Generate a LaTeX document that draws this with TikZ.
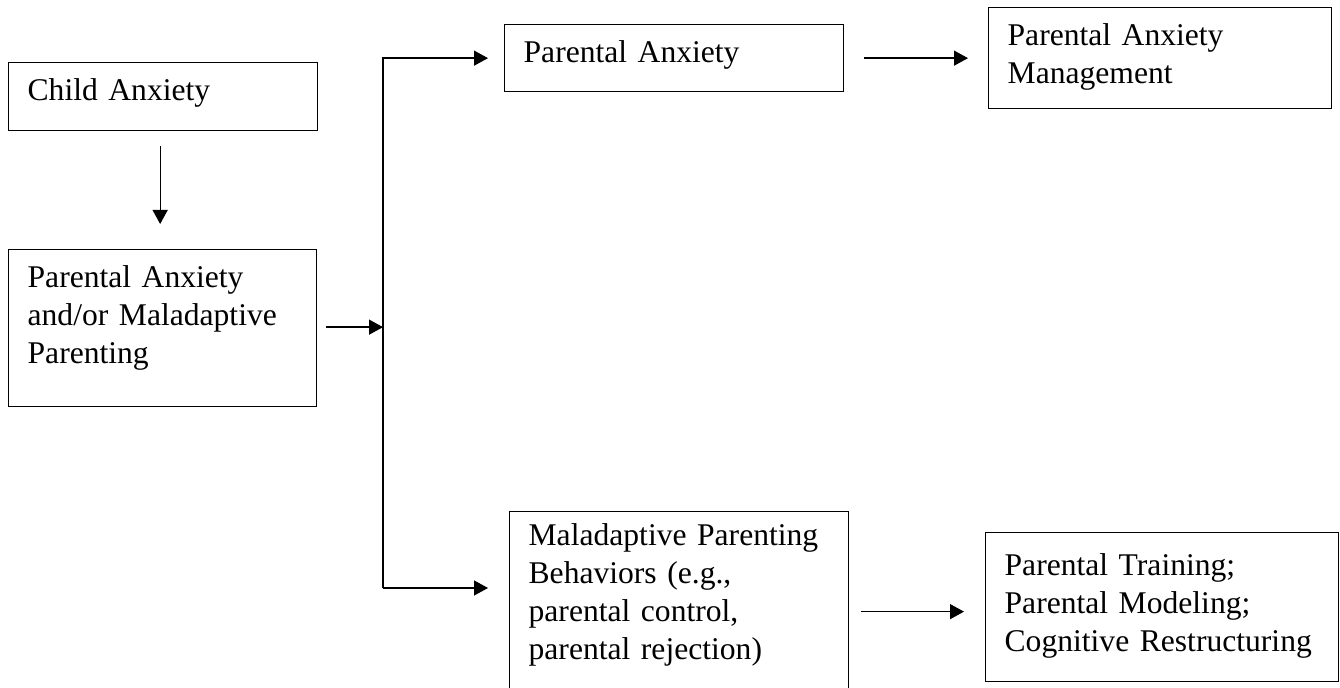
\documentclass[tikz,border=0pt]{standalone}
\usepackage{fontspec}
\setmainfont{Liberation Serif}
\usetikzlibrary{arrows.meta}
\hyphenpenalty=10000
\begin{document}
\begin{tikzpicture}[x=0.5pt,y=-0.5pt]
	\tikzstyle{fleche}=[line width=0.65pt,-{Triangle[length=7pt,width=7.5pt]}]
	\tikzstyle{boite}=[draw,line width=0.65pt,anchor=north west,align=left,inner xsep=9.5pt,inner ysep=0pt,text height=19pt,font=\fontsize{15.8}{19}\selectfont]
	\def\Jonction{383}\def\HautBranche{58}\def\BasBranche{588}
	\useasboundingbox (0,0) rectangle (1340,688);
	\node[boite,text width=135.5pt,text depth=15pt] (CA) at (8,62) {Child Anxiety};
	\node[boite,text width=135pt,text depth=59.5pt] (PAM) at (8,249) {Parental Anxiety\\and/or Maladaptive\\Parenting};
	\node[boite,text width=150.5pt,text depth=14.5pt] (PA) at (504,24) {Parental Anxiety};
	\node[boite,text width=152.5pt,text depth=31.5pt] (PAG) at (988,7) {Parental Anxiety\\Management};
	\node[boite,text width=150.5pt,text height=17pt,text depth=76pt] (MPB) at (509,511) {Maladaptive Parenting\\Behaviors (e.g.,\\parental control,\\parental rejection)};
	\node[boite,text width=157.5pt,text height=21.5pt,text depth=53pt] (PT) at (985,532) {Parental Training;\\Parental Modeling;\\Cognitive Restructuring};
	\coordinate (JH) at (\Jonction,\HautBranche) ; \coordinate (JB) at (\Jonction,\BasBranche) ;
	\draw[fleche,shorten <=7.5pt,shorten >=12.5pt] ([xshift=-1.5pt]CA.south) -- ([xshift=-1.5pt]CA.south |- PAM.north) ;
	\draw[fleche,shorten <=4.5pt] ([yshift=0.5pt]PAM.east) -- ([yshift=0.5pt]PAM.east -| JH) ;
	\draw[fleche,shorten >=8pt] (JB) |- (PA.west) ;
	\draw[fleche,shorten >=10.5pt] (JB) -- (JB -| MPB.west) ;
	\draw[fleche,shorten <=10pt,shorten >=10pt] (PA.east) -- (PAG.west) ;
	\draw[fleche,shorten <=6pt,shorten >=10.5pt] ([yshift=-3.5pt]MPB.east) -- ([yshift=-3.5pt]MPB.east -| PT.west) ;
\end{tikzpicture}
\end{document}
